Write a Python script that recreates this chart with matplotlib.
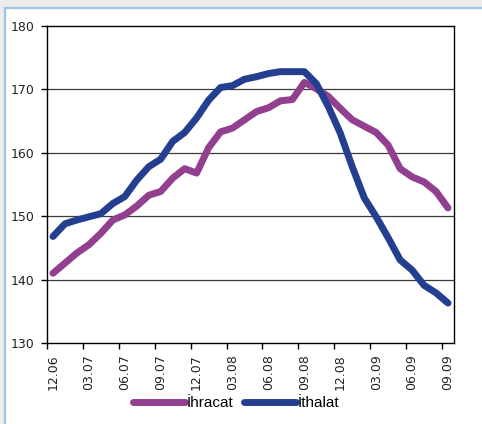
import matplotlib
matplotlib.use('Agg')
import matplotlib.pyplot as plt
from matplotlib.patches import Rectangle
from matplotlib.lines import Line2D

# monthly index, 12.06 .. 09.09
months = ['12.06', '01.07', '02.07', '03.07', '04.07', '05.07', '06.07', '07.07',
          '08.07', '09.07', '10.07', '11.07', '12.07', '01.08', '02.08', '03.08',
          '04.08', '05.08', '06.08', '07.08', '08.08', '09.08', '10.08', '11.08',
          '12.08', '01.09', '02.09', '03.09', '04.09', '05.09', '06.09', '07.09',
          '08.09', '09.09']

ihracat = [141.0, 142.6, 144.2, 145.5, 147.3, 149.4, 150.2, 151.6, 153.3, 153.9,
           156.0, 157.5, 156.8, 160.8, 163.3, 163.9, 165.2, 166.5, 167.1, 168.2,
           168.4, 171.1, 170.1, 168.9, 167.0, 165.2, 164.2, 163.2, 161.2, 157.5,
           156.2, 155.4, 153.9, 151.3]

ithalat = [146.8, 148.8, 149.4, 149.9, 150.4, 152.0, 153.1, 155.7, 157.8, 159.0,
           161.8, 163.2, 165.5, 168.3, 170.3, 170.6, 171.6, 172.0, 172.5, 172.8,
           172.8, 172.8, 170.9, 167.3, 163.1, 157.8, 152.9, 149.9, 146.6, 143.1,
           141.5, 139.1, 137.9, 136.3]

yticks = [130, 140, 150, 160, 170, 180]

C_IHR = '#913f8e'
C_ITH = '#243f90'
LW = 5.0

fig = plt.figure(figsize=(4.82, 4.24), dpi=100)
fig.patch.set_facecolor('#ececec')
# white panel with light blue frame (right and bottom edges fall outside)
fig.patches.append(Rectangle((4.5 / 482, -0.5), 2.0, (424 - 7.5) / 424 + 0.5,
                             transform=fig.transFigure, facecolor='white',
                             edgecolor='#9cc3e8', linewidth=1.6, zorder=-5))

ax = fig.add_axes([47 / 482, (424 - 343) / 424, (454 - 47) / 482, (343 - 26) / 424])
ax.set_facecolor('white')

x = range(len(months))
ax.plot(x, ihracat, color=C_IHR, lw=LW, solid_capstyle='round',
        solid_joinstyle='round', zorder=3)
ax.plot(x, ithalat, color=C_ITH, lw=LW, solid_capstyle='round',
        solid_joinstyle='round', zorder=3)

ax.set_xlim(-0.5, len(months) - 0.5)
ax.set_ylim(130, 180)
ax.set_yticks(yticks)
ax.set_yticklabels([str(v) for v in yticks], fontsize=9, color='#222222')
for v in yticks[1:-1]:
    ax.axhline(v, color='#3a3a3a', lw=0.9, zorder=1)

# labels every 3rd month, tick marks at category boundaries
ax.set_xticks(list(x)[::3])
ax.set_xticklabels(months[::3], rotation=90, fontsize=9, color='#222222')
ax.tick_params(axis='x', which='major', length=0, pad=8)
ax.set_xticks([i - 0.5 for i in list(x)[::3]], minor=True)
ax.tick_params(axis='x', which='minor', length=4, width=1, direction='out')
ax.tick_params(axis='y', length=4, width=1, direction='out', pad=5)

for s in ax.spines.values():
    s.set_color('black')
    s.set_linewidth(1.0)

handles = [Line2D([0], [0], color=C_IHR, lw=LW, solid_capstyle='round'),
           Line2D([0], [0], color=C_ITH, lw=LW, solid_capstyle='round')]
fig.legend(handles, ['İhracat', 'İthalat'], loc='center', ncol=2,
           bbox_to_anchor=(0.49, (424 - 403) / 424), frameon=False,
           prop={'family': 'Liberation Sans', 'size': 11},
           handlelength=3.4, handletextpad=0.1, columnspacing=0.7)

fig.savefig('out.png', dpi=100, facecolor=fig.get_facecolor())
